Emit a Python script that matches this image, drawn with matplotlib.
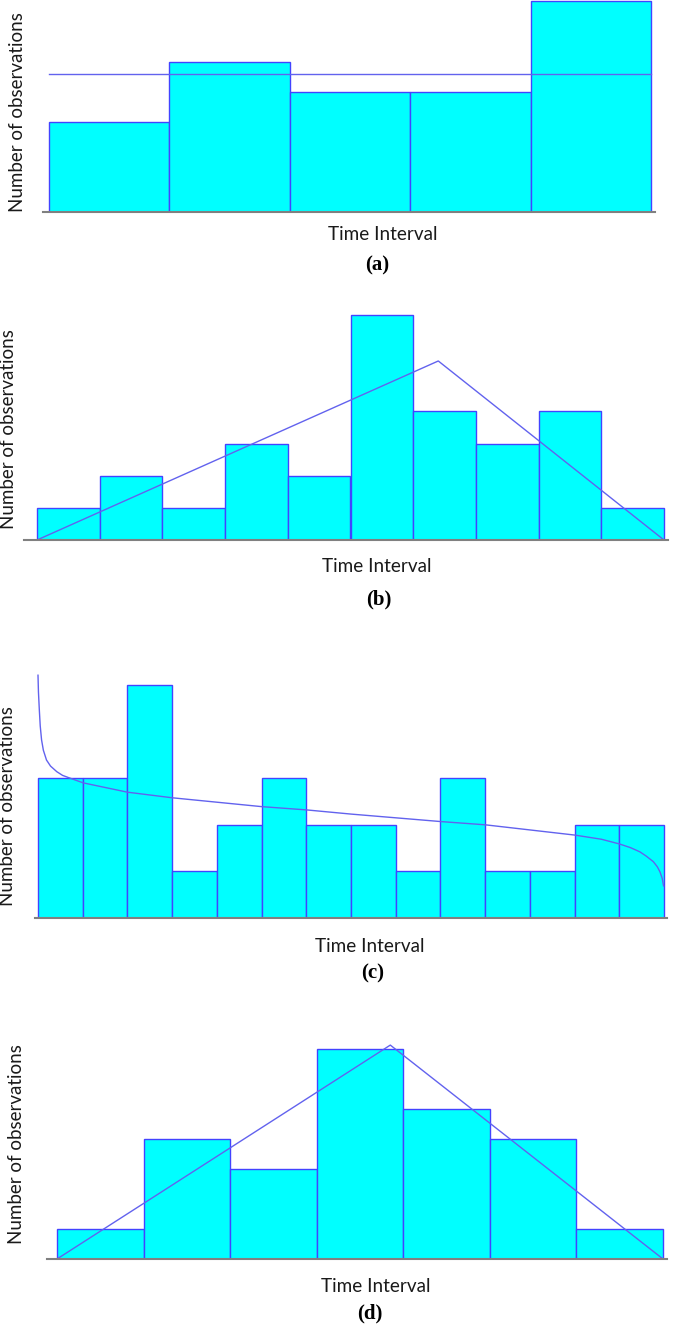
import matplotlib
matplotlib.use('Agg')
import matplotlib.pyplot as plt

W, H = 685, 1325

# panel (a): uniform
a_counts = [3, 5, 4, 4, 7]
a_line_x = [0, 5]
a_line_y = [4.6, 4.6]

# panel (b): triangular
b_counts = [1, 2, 1, 3, 2, 7, 4, 3, 4, 1]
b_line_x = [0, 6.4, 10]
b_line_y = [0, 5.57, 0]

# panel (c): fitted curve
c_counts = [3, 3, 5, 1, 2, 3, 2, 2, 1, 3, 1, 1, 2, 2]
c_line_x = [0.0, 0.01, 0.03, 0.05, 0.08, 0.12, 0.19, 0.28, 0.42, 0.55, 0.72, 1.01,
            2.0, 3.0, 5.0, 6.0, 7.0, 9.0, 10.0, 11.0, 12.0, 12.6, 13.0, 13.25,
            13.46, 13.6, 13.76, 13.85, 13.91, 13.96, 13.99]
c_line_y = [5.21, 4.85, 4.46, 4.12, 3.82, 3.6, 3.39, 3.26, 3.14, 3.06, 3.0, 2.90,
            2.70, 2.58, 2.39, 2.32, 2.23, 2.07, 2.0, 1.89, 1.78, 1.69, 1.59, 1.51,
            1.42, 1.33, 1.21, 1.10, 0.99, 0.85, 0.69]

# panel (d): triangular
d_counts = [1, 4, 3, 7, 5, 4, 1]
d_line_x = [0, 3.85, 7]
d_line_y = [0, 7.13, 0]

fill = '#00ffff'
edge = '#4343ff'
linec = '#6262ee'
txt = '#1a1a1a'

fig = plt.figure(figsize=(W / 100, H / 100), dpi=100)


def panel(counts, lx, ly, ax_l, ax_r, bar_l, bar_r, base, top_px, unit_px,
          ylab_x, ylab_y, xlab_x, xlab_y, tag, tag_x, tag_y):
    n = len(counts)
    binw = (bar_r - bar_l) / n
    x0 = -(bar_l - ax_l) / binw
    x1 = n + (ax_r - bar_r) / binw
    ax = fig.add_axes([ax_l / W, 1 - base / H, (ax_r - ax_l) / W, (base - top_px) / H])
    ax.bar(range(n), counts, width=1, align='edge', color=fill, edgecolor=edge, linewidth=1)
    ax.plot(lx, ly, color=linec, linewidth=1, clip_on=False)
    ax.set_xlim(x0, x1)
    ax.set_ylim(0, (base - top_px) / unit_px)
    for s in ['top', 'right', 'left']:
        ax.spines[s].set_visible(False)
    ax.spines['bottom'].set_color('#808080')
    ax.spines['bottom'].set_linewidth(1.5)
    ax.set_xticks([])
    ax.set_yticks([])
    ax.patch.set_alpha(0)
    fig.text(ylab_x / W, 1 - ylab_y / H, 'Number of observations',
             rotation=90, ha='center', va='center', fontsize=13.5, family='Lato', color=txt)
    fig.text(xlab_x / W, 1 - xlab_y / H, 'Time Interval', ha='center', va='center',
             fontsize=13.6, family='Lato', color=txt)
    fig.text(tag_x / W, 1 - tag_y / H, tag, ha='center', va='center', fontsize=15,
             family='Liberation Serif', fontweight='bold')
    return ax


panel(a_counts, a_line_x, a_line_y, 43, 655, 49, 651, 212, 0, 30.1,
      18, 112, 383, 235, '(a)', 377, 265)
panel(b_counts, b_line_x, b_line_y, 24, 668, 37, 664, 540, 300, 32.14,
      9, 429, 377, 566, '(b)', 379, 599)
panel(c_counts, c_line_x, c_line_y, 35, 667, 38, 664, 918, 670, 46.6,
      8, 806, 370, 946, '(c)', 373, 973)
panel(d_counts, d_line_x, d_line_y, 47, 667, 57, 663, 1259, 1040, 30.0,
      17, 1144, 376, 1286, '(d)', 370, 1313)

fig.savefig('out.png', dpi=100)
